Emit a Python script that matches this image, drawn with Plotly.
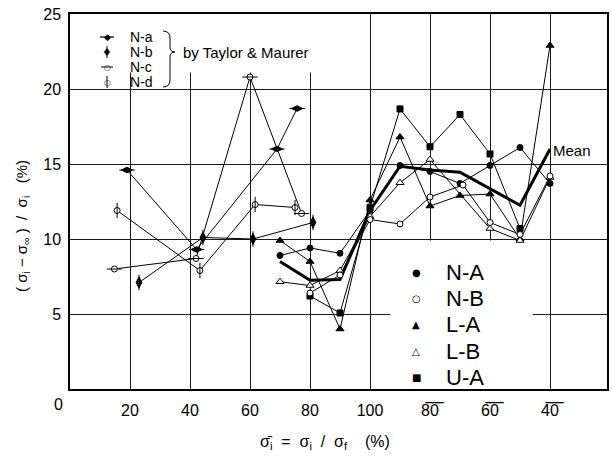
import plotly.graph_objects as go

# ---------------- data ----------------
# Taylor & Maurer series (x = sigma_i / sigma_f in %, left branch)
na_x = [19, 42.2, 69, 75.7]
na_y = [14.6, 9.3, 16.0, 18.7]
nb_x = [23, 44.3, 61, 81]
nb_y = [7.1, 10.1, 10.0, 11.1]
nc_x = [14.8, 42, 60, 77.2]
nc_y = [8.0, 8.7, 20.8, 11.7]
nd_x = [15.7, 43.3, 61.7, 75]
nd_y = [11.9, 7.9, 12.3, 12.1]

# present series; beyond 100 the axis runs back down (120 -> 80-bar, 140 -> 60-bar, 160 -> 40-bar)
NA_x = [70, 80, 90, 100, 110, 120, 130, 140, 150, 160]
NA_y = [8.9, 9.4, 9.05, 11.9, 14.9, 14.5, 13.7, 14.9, 16.1, 13.7]
NB_x = [80, 90, 100, 110, 120, 131, 140, 150, 160]
NB_y = [6.4, 7.6, 11.3, 11.0, 12.8, 13.6, 11.1, 10.3, 14.2]
LA_x = [70, 80, 90, 100, 110, 120, 130, 140, 150, 160]
LA_y = [9.9, 8.5, 4.0, 12.6, 16.8, 12.2, 12.9, 13.0, 10.0, 22.9]
LB_x = [70, 80, 90, 100, 110, 120, 140, 150, 160]
LB_y = [7.15, 6.9, 7.9, 11.5, 13.75, 15.3, 10.7, 9.9, 14.1]
UA_x = [80, 90, 100, 110, 120, 130, 140, 150]
UA_y = [6.2, 5.07, 12.1, 18.67, 16.15, 18.3, 15.67, 10.7]
MEAN_x = [70, 80, 90, 100, 110, 120, 130, 150, 160]
MEAN_y = [8.5, 7.25, 7.3, 11.9, 14.85, 14.6, 14.45, 12.25, 16.0]

x_tickvals = [20, 40, 60, 80, 100, 120, 140, 160]
x_ticktext = ['20', '40', '60', '80', '100', '8\u03050\u0305', '6\u03050\u0305', '4\u03050\u0305']
y_tickvals = [5, 10, 15, 20, 25]
y_ticktext = ['5', '10', '15', '20', '25']

FONT = 'Liberation Sans, Arial, sans-serif'
SYM = 'DejaVu Sans, sans-serif'

fig = go.Figure()


def series(x, y, symbol, size, fill, width=1, tick=None):
    fig.add_trace(go.Scatter(
        x=x, y=y, mode='lines+markers', showlegend=False,
        line=dict(color='black', width=width),
        marker=dict(symbol=symbol, size=size, color=fill,
                    line=dict(color='black', width=1)),
        hoverinfo='skip'))
    if tick:
        fig.add_trace(go.Scatter(
            x=x, y=y, mode='markers', showlegend=False,
            marker=dict(symbol=tick, size=11, color='black',
                        line=dict(color='black', width=1)),
            hoverinfo='skip'))


# Taylor & Maurer
series(na_x, na_y, 'diamond-wide', 8, 'black', tick='line-ew')
series(nb_x, nb_y, 'diamond-tall', 8, 'black', tick='line-ns')
series(nc_x, nc_y, 'circle', 6, 'white', tick='line-ew')
series(nd_x, nd_y, 'circle', 6, 'white', tick='line-ns')

# mean (thick)
fig.add_trace(go.Scatter(x=MEAN_x, y=MEAN_y, mode='lines', showlegend=False,
                         line=dict(color='black', width=3), hoverinfo='skip'))
# present series
series(UA_x, UA_y, 'square', 6, 'black')
series(LA_x, LA_y, 'triangle-up', 7, 'black')
series(LB_x, LB_y, 'triangle-up', 7, 'white')
series(NA_x, NA_y, 'circle', 6, 'black')
series(NB_x, NB_y, 'circle', 6, 'white')

# plot area at x 70..607, y 14..389 of the 612x458 page (body margin removed below)
W, H = 612, 458
L, T, R, B = 70, 14, 5, 69
PW, PH = W - L - R, H - T - B


def px(x):
    return (x - L) / PW


def py(y):
    return (H - B - y) / PH


ann = []


def text(x, y, s, size=15, xanchor='left', font=FONT, angle=0):
    ann.append(dict(x=px(x), y=py(y), xref='paper', yref='paper', text=s,
                    showarrow=False, xanchor=xanchor, yanchor='middle',
                    textangle=angle, font=dict(family=font, size=size, color='black')))


shapes = []


def seg(x0, y0, x1, y1, w=1):
    shapes.append(dict(type='line', xref='paper', yref='paper',
                       x0=px(x0), y0=py(y0), x1=px(x1), y1=py(y1),
                       line=dict(color='black', width=w)))


# corner zero
text(58, 404, '0', 16, xanchor='center')

# top-left legend
rows = [37, 52, 67, 82]
labels = ['N-a', 'N-b', 'N-c', 'N-d']
for yy, lab in zip(rows, labels):
    text(128, yy, lab, 14)
seg(100, rows[0], 114, rows[0], 1.2)
text(107, rows[0], '\u25c6', 9, 'center', SYM)
seg(107, rows[1] - 6, 107, rows[1] + 6, 1)
text(107, rows[1], '\u2666', 11, 'center', SYM)
seg(101, rows[2], 113, rows[2], 1)
text(107, rows[2], '\u25cb', 8, 'center', SYM)
seg(107, rows[3] - 6, 107, rows[3] + 6, 1)
text(107, rows[3], '\u25cb', 8, 'center', SYM)
text(181, 53, 'by Taylor &amp; Maurer', 15)

# bottom legend
brow = [272, 298, 324, 351, 377]
blab = ['N-A', 'N-B', 'L-A', 'L-B', 'U-A']
bsym = ['\u25cf', '\u25cb', '\u25b2', '\u25b3', '\u25a0']
for yy, lab, s in zip(brow, blab, bsym):
    text(444, yy, lab, 22)
    text(416, yy, s, 10, 'center', SYM)

# Mean label
text(551, 150, 'Mean', 15)

# axis titles
text(325, 443, '\u03c3\u0304<sub>i</sub>  =  \u03c3<sub>i</sub>  /  \u03c3<sub>f</sub>    (%)', 16, 'center')
text(22, 226, '( \u03c3<sub>i</sub> \u2212 \u03c3<sub>\u221e</sub> )  /  \u03c3<sub>i</sub>   (%)', 15,
     'center', angle=-90)

# brace
path = ('M {a},{b} Q {c},{b} {c},{d} L {c},{e} Q {c},{f} {g},{f} Q {c},{f} {c},{h} '
        'L {c},{i} Q {c},{j} {a},{j}').format(
    a=px(163), b=py(31), c=px(170), d=py(38), e=py(47), f=py(52), g=px(175),
    h=py(57), i=py(80), j=py(87))

shapes += [
    dict(type='rect', xref='x', yref='y', x0=0, x1=90, y0=21.1, y1=25,
         fillcolor='white', line=dict(width=0), layer='between'),
    dict(type='rect', xref='x', yref='y', x0=106.7, x1=154.3, y0=0, y1=9.9,
         fillcolor='white', line=dict(width=0), layer='between'),
    dict(type='path', xref='paper', yref='paper', path=path,
         line=dict(color='black', width=1)),
]

fig.update_layout(
    width=W, height=H, margin=dict(l=L, r=R, t=T, b=B, autoexpand=False),
    paper_bgcolor='white', plot_bgcolor='white',
    showlegend=False, annotations=ann, shapes=shapes,
    xaxis=dict(range=[0, 179], tickvals=x_tickvals, ticktext=x_ticktext,
               showgrid=True, gridcolor='#1a1a1a', gridwidth=1.2, zeroline=False,
               showline=True, mirror=True, linecolor='black', linewidth=1.5,
               ticks='', ticklabelstandoff=6, ticklabeloverflow='allow',
               tickfont=dict(family=FONT, size=16, color='black')),
    yaxis=dict(range=[0, 25], tickvals=y_tickvals, ticktext=y_ticktext,
               showgrid=True, gridcolor='#1a1a1a', gridwidth=1.2, zeroline=False,
               showline=True, mirror=True, linecolor='black', linewidth=1.5,
               ticks='', ticklabelstandoff=4, ticklabeloverflow='allow',
               tickfont=dict(family=FONT, size=16, color='black')),
)

fig.write_html('out.html', config={'displayModeBar': False},
               post_script="document.body.style.margin='0';document.body.style.overflow='hidden';")
